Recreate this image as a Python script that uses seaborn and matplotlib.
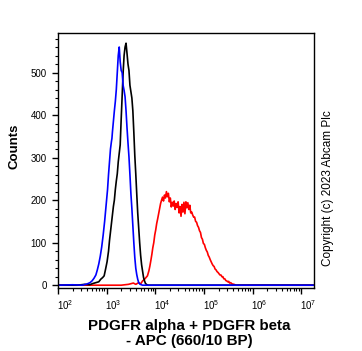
import numpy as np
import pandas as pd
import seaborn as sns
import matplotlib.pyplot as plt
from matplotlib.ticker import LogLocator, MultipleLocator
from matplotlib.transforms import ScaledTranslation

# log10 of fluorescence, counts
blue_log = [2.00, 2.30, 2.50, 2.60, 2.66, 2.70, 2.74, 2.78, 2.81, 2.84, 2.87, 2.90, 2.93, 2.96,
            2.98, 3.00, 3.02, 3.04, 3.06, 3.08, 3.10, 3.11, 3.12, 3.14, 3.16, 3.18, 3.20, 3.22,
            3.24, 3.26, 3.28, 3.30, 3.32, 3.34, 3.36, 3.38, 3.40, 3.42, 3.44, 3.46, 3.48, 3.50,
            3.52, 3.54, 3.56, 3.58, 3.60, 3.62, 3.64, 3.66, 3.69, 3.74, 7.25]
blue_cnt = [0, 1, 0, 3, 6, 10, 16, 24, 36, 50, 68, 90, 118, 150,
            175, 200, 225, 260, 290, 320, 338, 345, 360, 385, 410, 432, 460, 500,
            540, 560, 525, 505, 500, 470, 458, 443, 410, 370, 335, 302, 260, 215,
            180, 140, 100, 65, 40, 25, 14, 6, 2, 0, 0]

black_log = [2.00, 2.40, 2.55, 2.65, 2.72, 2.78, 2.84, 2.88, 2.92, 2.95, 2.98, 3.01, 3.04, 3.06,
             3.08, 3.10, 3.12, 3.14, 3.16, 3.18, 3.20, 3.22, 3.24, 3.26, 3.28, 3.30, 3.32, 3.34,
             3.36, 3.38, 3.40, 3.42, 3.44, 3.46, 3.48, 3.50, 3.52, 3.54, 3.56, 3.58, 3.60, 3.62,
             3.64, 3.66, 3.68, 3.70, 3.72, 3.74, 3.76, 3.78, 3.80, 3.83, 3.86, 7.25]
black_cnt = [0, 0, 2, 1, 4, 6, 8, 14, 18, 22, 38, 55, 80, 105,
             125, 145, 165, 185, 200, 225, 245, 262, 290, 310, 330, 390, 445, 500,
             540, 560, 569, 545, 520, 505, 470, 455, 440, 410, 360, 305, 262, 215,
             170, 135, 100, 70, 48, 33, 18, 10, 4, 1, 0, 0]

red_log = [2.00, 3.30, 3.45, 3.55, 3.60, 3.66, 3.70, 3.74, 3.78, 3.81, 3.84, 3.87, 3.89, 3.91,
           3.93, 3.95, 3.97, 3.99, 4.01, 4.03, 4.05, 4.07, 4.09, 4.11, 4.13, 4.15, 4.17, 4.19,
           4.21, 4.23, 4.25, 4.27, 4.29, 4.31, 4.33, 4.35, 4.37, 4.39, 4.41, 4.43, 4.45, 4.47,
           4.49, 4.51, 4.53, 4.55, 4.57, 4.59, 4.61, 4.63, 4.65, 4.67, 4.69, 4.71, 4.73, 4.75,
           4.77, 4.79, 4.81, 4.83, 4.85, 4.87, 4.89, 4.91, 4.93, 4.95, 4.97, 4.99, 5.01, 5.03,
           5.05, 5.07, 5.09, 5.11, 5.13, 5.15, 5.17, 5.19, 5.21, 5.23, 5.25, 5.27, 5.29, 5.31,
           5.33, 5.35, 5.37, 5.39, 5.41, 5.43, 5.45, 5.47, 5.49, 5.51, 5.53, 5.55, 5.58, 5.62,
           5.66, 7.25]
red_cnt = [0, 0, 2, 5, 2, 6, 3, 10, 14, 18, 22, 34, 45, 58,
           72, 88, 100, 118, 130, 145, 156, 168, 180, 192, 200, 207, 198, 212,
           205, 220, 208, 216, 196, 205, 184, 195, 186, 198, 178, 192, 183, 196,
           170, 185, 162, 190, 172, 195, 168, 196, 182, 194, 178, 188, 170, 172,
           165, 160, 160, 150, 148, 140, 136, 128, 124, 112, 108, 98, 96, 88,
           82, 78, 70, 66, 60, 55, 50, 46, 44, 38, 36, 32, 30, 27,
           24, 24, 20, 20, 15, 15, 11, 10, 8, 9, 5, 6, 3, 2,
           0, 0]

df = pd.concat([
    pd.DataFrame({"x": 10 ** np.array(red_log), "count": red_cnt, "sample": "red"}),
    pd.DataFrame({"x": 10 ** np.array(black_log), "count": black_cnt, "sample": "black"}),
    pd.DataFrame({"x": 10 ** np.array(blue_log), "count": blue_cnt, "sample": "blue"}),
])

sns.set_style("ticks")
plt.rcParams['font.family'] = ['Liberation Sans', 'DejaVu Sans']
plt.rcParams['text.color'] = 'black'
plt.rcParams['axes.labelcolor'] = 'black'

fig = plt.figure(figsize=(3.62, 3.51), dpi=100)
ax = fig.add_axes([0.160, 0.179, 0.707, 0.727])

sns.lineplot(data=df, x="x", y="count", hue="sample",
             palette={"red": "#ff0000", "black": "#000000", "blue": "#0000ff"},
             estimator=None, sort=False, legend=False, linewidth=1.2, ax=ax)

ax.set_xscale("log")
ax.set_xlim(10 ** 2, 10 ** 7.26)
ax.set_ylim(-7, 593)

ax.xaxis.set_major_locator(LogLocator(base=10, numticks=12))
ax.xaxis.set_minor_locator(LogLocator(base=10, subs=np.arange(2, 10), numticks=12))
ax.yaxis.set_major_locator(MultipleLocator(100))
ax.yaxis.set_minor_locator(MultipleLocator(20))

ax.tick_params(axis="both", which="major", direction="out", length=4, width=1,
               labelsize=7, colors="black", pad=3)
ax.tick_params(axis="both", which="minor", direction="out", length=2.5, width=0.8,
               colors="black")
ax.tick_params(axis="y", which="major", pad=4)

shift = ScaledTranslation(0.07, 0, fig.dpi_scale_trans)
for lab in ax.get_xticklabels():
    lab.set_transform(lab.get_transform() + shift)

for sp in ax.spines.values():
    sp.set_linewidth(1)
    sp.set_color("black")

ax.set_ylabel("Counts", fontsize=9.5, fontweight="bold")
ax.yaxis.set_label_coords(-0.145, 0.555)
ax.set_xlabel("PDGFR alpha + PDGFR beta\n- APC (660/10 BP)", fontsize=10.9,
              fontweight="bold", linespacing=1.1)
ax.xaxis.set_label_coords(0.515, -0.122)
ax.xaxis.label.set_va("top")

fig.text(0.905, 0.465, "Copyright (c) 2023 Abcam Plc", rotation=90,
         fontsize=8.5, ha="center", va="center")

fig.savefig("out.png", dpi=100)
